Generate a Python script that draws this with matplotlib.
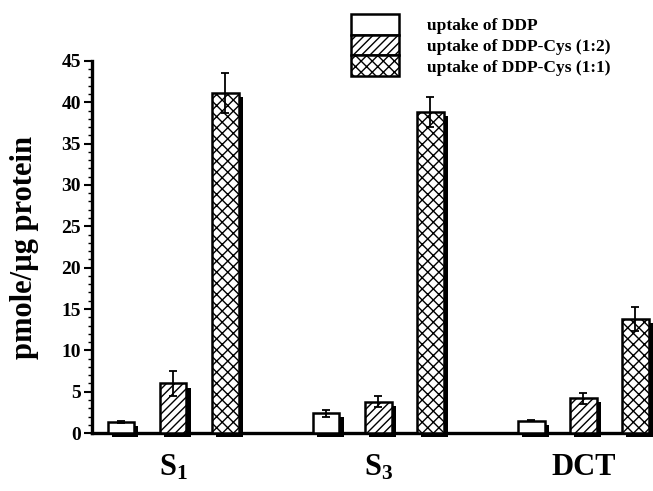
import numpy as np
import matplotlib
matplotlib.use("Agg")
import matplotlib.pyplot as plt
import matplotlib.patheffects as pe
from matplotlib.patches import Patch
from matplotlib.ticker import MultipleLocator

# data
groups = ["$\\mathbf{S_1}$", "$\\mathbf{S_3}$", "DCT"]
series = ["uptake of DDP", "uptake of DDP-Cys (1:2)", "uptake of DDP-Cys (1:1)"]
ddp = [1.3, 2.4, 1.5]
ddp_err = [0.1, 0.4, 0.1]
cys12 = [6.0, 3.8, 4.2]
cys12_err = [1.5, 0.7, 0.7]
cys11 = [41.1, 38.8, 13.8]
cys11_err = [2.4, 1.8, 1.4]
hatches = ["", "////", "xxx"]

plt.rcParams["font.family"] = "Liberation Serif"
plt.rcParams["font.weight"] = "bold"
plt.rcParams["mathtext.fontset"] = "custom"
plt.rcParams["mathtext.rm"] = "Liberation Serif:bold"
plt.rcParams["mathtext.bf"] = "Liberation Serif:bold"
plt.rcParams["hatch.linewidth"] = 1.0

fig = plt.figure(figsize=(6.53, 4.91), dpi=100)
ax = fig.add_axes([0.141, 0.118, 0.859, 0.758])

x = np.arange(len(groups))
offset = 0.254
width = 0.13
shadow = [pe.SimplePatchShadow(offset=(3, -3), shadow_rgbFace="black", alpha=1.0), pe.Normal()]

for i, (vals, errs) in enumerate([(ddp, ddp_err), (cys12, cys12_err), (cys11, cys11_err)]):
    pos = x + (i - 1) * offset
    bars = ax.bar(pos, vals, width, color="white", edgecolor="black", linewidth=1.8,
                  hatch=hatches[i], clip_on=False, zorder=3)
    for b in bars:
        b.set_path_effects(shadow)
    ax.errorbar(pos, vals, yerr=errs, fmt="none", ecolor="black", elinewidth=1.3,
                capsize=3, capthick=1.3, zorder=4, clip_on=False)

ax.set_xlim(-0.395, 2.34)
ax.set_ylim(0, 45)
ax.yaxis.set_major_locator(MultipleLocator(5))
ax.yaxis.set_minor_locator(MultipleLocator(1))
ax.tick_params(axis="y", which="major", length=6, width=1.5, labelsize=14, pad=2)
ax.tick_params(axis="y", which="minor", length=3, width=1.0)
ax.set_xticks(x)
ax.set_xticklabels(groups, fontsize=22, fontweight="bold")
ax.tick_params(axis="x", length=0, pad=14)
ax.set_ylabel("pmole/\u00b5g protein", fontsize=22, fontweight="bold", labelpad=16)

for s in ["top", "right"]:
    ax.spines[s].set_visible(False)
for s in ["left", "bottom"]:
    ax.spines[s].set_linewidth(2.4)
ax.spines["bottom"].set_zorder(2)

handles = [Patch(facecolor="white", edgecolor="black", linewidth=1.8, hatch=h) for h in hatches]
fig.legend(handles, series, loc="upper left", bbox_to_anchor=(0.538, 0.972),
           frameon=False, handlelength=2.76, handleheight=1.47,
           labelspacing=0.0, handletextpad=1.6, borderpad=0, borderaxespad=0,
           prop={"family": "Liberation Serif", "weight": "bold", "size": 12.5})

fig.savefig("out.png", dpi=100)
